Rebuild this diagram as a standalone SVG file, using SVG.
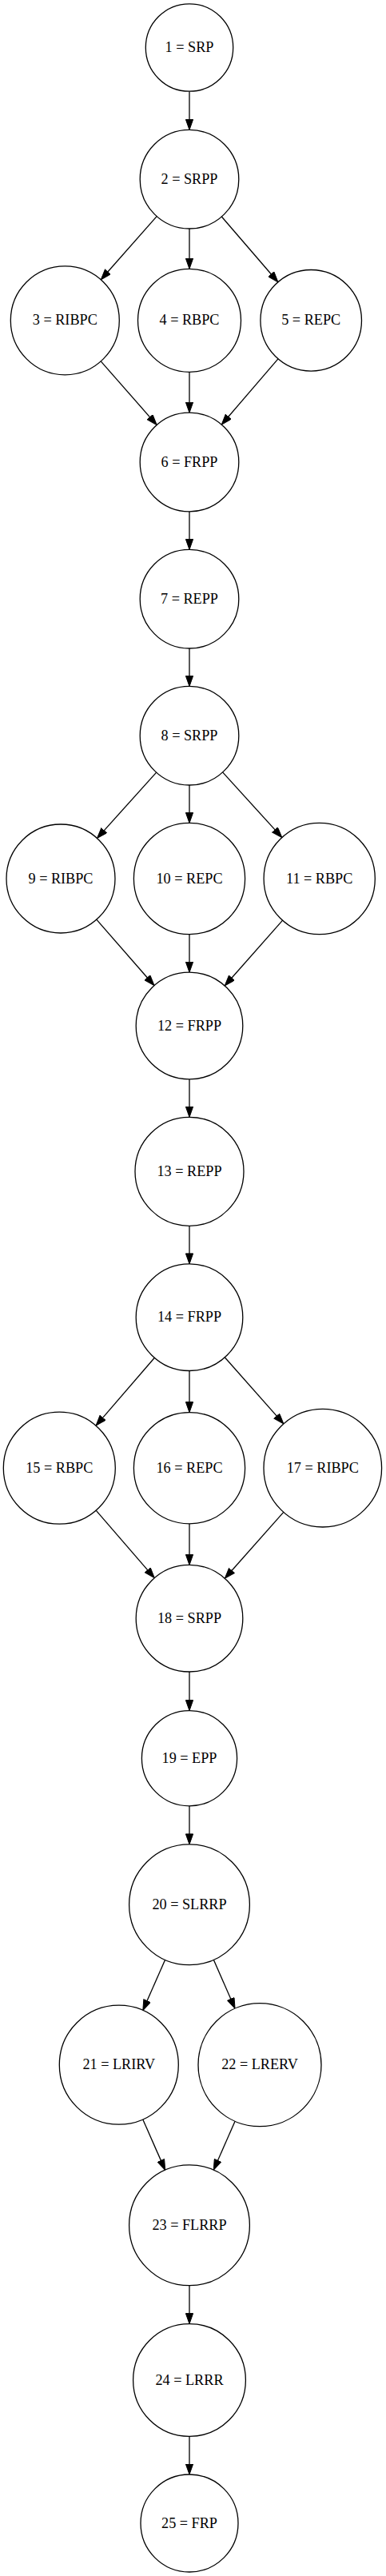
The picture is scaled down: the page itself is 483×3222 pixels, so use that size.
<svg xmlns="http://www.w3.org/2000/svg" width="483" height="3222" viewBox="0 0 483 3222">
<style>
.n circle{fill:#fff;stroke:#000;stroke-width:1.3}
.n text{font-family:"Liberation Serif","Times New Roman",serif;font-size:18.2px;text-anchor:middle;fill:#000}
.e path{fill:none;stroke:#000;stroke-width:1.3;marker-end:url(#ah)}
</style>
<defs>
<marker id="ah" markerUnits="userSpaceOnUse" markerWidth="14" markerHeight="10" viewBox="0 0 14 10" refX="0.5" refY="4.8" orient="auto">
<path d="M0.5,0.2 L13.5,4.8 L0.5,9.4 z" fill="#000" stroke="#000" stroke-width="1"/>
</marker>
</defs>
<rect x="0" y="0" width="483" height="3222" fill="#fff"/>
<g id="edges" class="e">
<path d="M237,114.2 L237,149.4"/>
<path d="M196.13,270.56 L134.87,340.04"/>
<path d="M237,286 L237,323.3"/>
<path d="M277.34,271.01 L339.39,343"/>
<path d="M126.19,451.88 L187.63,521.81"/>
<path d="M237,465.3 L237,503.2"/>
<path d="M347.95,448.82 L285.74,521.26"/>
<path d="M237,639.8 L237,674.4"/>
<path d="M237,811 L237,845.4"/>
<path d="M195.65,966.12 L130.2,1038.81"/>
<path d="M237,982 L237,1016.4"/>
<path d="M278.59,965.91 L344.11,1037.91"/>
<path d="M120.78,1150.18 L184.45,1222.95"/>
<path d="M237,1168.6 L237,1203.2"/>
<path d="M353.6,1151.14 L289.86,1223.22"/>
<path d="M237,1349.8 L237,1384.3"/>
<path d="M237,1533.3 L237,1567.9"/>
<path d="M193.35,1698.27 L128.53,1773.37"/>
<path d="M237,1714.5 L237,1753.6"/>
<path d="M281.27,1697.73 L346.27,1771.19"/>
<path d="M120.11,1889.13 L184.78,1963.86"/>
<path d="M237,1905.8 L237,1944.4"/>
<path d="M354.82,1891.4 L289.96,1964.51"/>
<path d="M237,2091 L237,2126.6"/>
<path d="M237,2258.8 L237,2293.9"/>
<path d="M206.63,2451.31 L184.05,2502.61"/>
<path d="M267.32,2451.34 L288.81,2500.3"/>
<path d="M178.79,2650.9 L201.42,2702.38"/>
<path d="M294.07,2653.22 L272.51,2702.34"/>
<path d="M237,2858.7 L237,2893.6"/>
<path d="M237,3047.4 L237,3082"/>
</g>
<g id="n1" class="n"><circle cx="237" cy="59.5" r="54.7"/><text x="237" y="65">1 = SRP</text></g>
<g id="n2" class="n"><circle cx="237" cy="224.2" r="61.8"/><text x="237" y="229.7">2 = SRPP</text></g>
<g id="n3" class="n"><circle cx="81.3" cy="400.8" r="68"/><text x="81.3" y="406.3">3 = RIBPC</text></g>
<g id="n4" class="n"><circle cx="237" cy="400.8" r="64.5"/><text x="237" y="406.3">4 = RBPC</text></g>
<g id="n5" class="n"><circle cx="389.2" cy="400.8" r="63.3"/><text x="389.2" y="406.3">5 = REPC</text></g>
<g id="n6" class="n"><circle cx="237" cy="578" r="61.8"/><text x="237" y="583.5">6 = FRPP</text></g>
<g id="n7" class="n"><circle cx="237" cy="749.2" r="61.8"/><text x="237" y="754.7">7 = REPP</text></g>
<g id="n8" class="n"><circle cx="237" cy="920.2" r="61.8"/><text x="237" y="925.7">8 = SRPP</text></g>
<g id="n9" class="n"><circle cx="76" cy="1099" r="68"/><text x="76" y="1104.5">9 = RIBPC</text></g>
<g id="n10" class="n"><circle cx="237" cy="1099" r="69.6"/><text x="237" y="1104.5">10 = REPC</text></g>
<g id="n11" class="n"><circle cx="399.7" cy="1099" r="69.6"/><text x="399.7" y="1104.5">11 = RBPC</text></g>
<g id="n12" class="n"><circle cx="237" cy="1283" r="66.8"/><text x="237" y="1288.5">12 = FRPP</text></g>
<g id="n13" class="n"><circle cx="237" cy="1465.3" r="68"/><text x="237" y="1470.8">13 = REPP</text></g>
<g id="n14" class="n"><circle cx="237" cy="1647.7" r="66.8"/><text x="237" y="1653.2">14 = FRPP</text></g>
<g id="n15" class="n"><circle cx="74.3" cy="1836.2" r="70"/><text x="74.3" y="1841.7">15 = RBPC</text></g>
<g id="n16" class="n"><circle cx="237" cy="1836.2" r="69.6"/><text x="237" y="1841.7">16 = REPC</text></g>
<g id="n17" class="n"><circle cx="403.8" cy="1836.2" r="73.8"/><text x="403.8" y="1841.7">17 = RIBPC</text></g>
<g id="n18" class="n"><circle cx="237" cy="2024.2" r="66.8"/><text x="237" y="2029.7">18 = SRPP</text></g>
<g id="n19" class="n"><circle cx="237" cy="2199.2" r="59.6"/><text x="237" y="2204.7">19 = EPP</text></g>
<g id="n20" class="n"><circle cx="237" cy="2382.3" r="75.4"/><text x="237" y="2387.8">20 = SLRRP</text></g>
<g id="n21" class="n"><circle cx="148.8" cy="2582.7" r="74.5"/><text x="148.8" y="2588.2">21 = LRIRV</text></g>
<g id="n22" class="n"><circle cx="325" cy="2582.7" r="77"/><text x="325" y="2588.2">22 = LRERV</text></g>
<g id="n23" class="n"><circle cx="237" cy="2783.3" r="75.4"/><text x="237" y="2788.8">23 = FLRRP</text></g>
<g id="n24" class="n"><circle cx="237" cy="2977" r="70.4"/><text x="237" y="2982.5">24 = LRRR</text></g>
<g id="n25" class="n"><circle cx="237" cy="3156" r="61"/><text x="237" y="3161.5">25 = FRP</text></g>
</svg>
